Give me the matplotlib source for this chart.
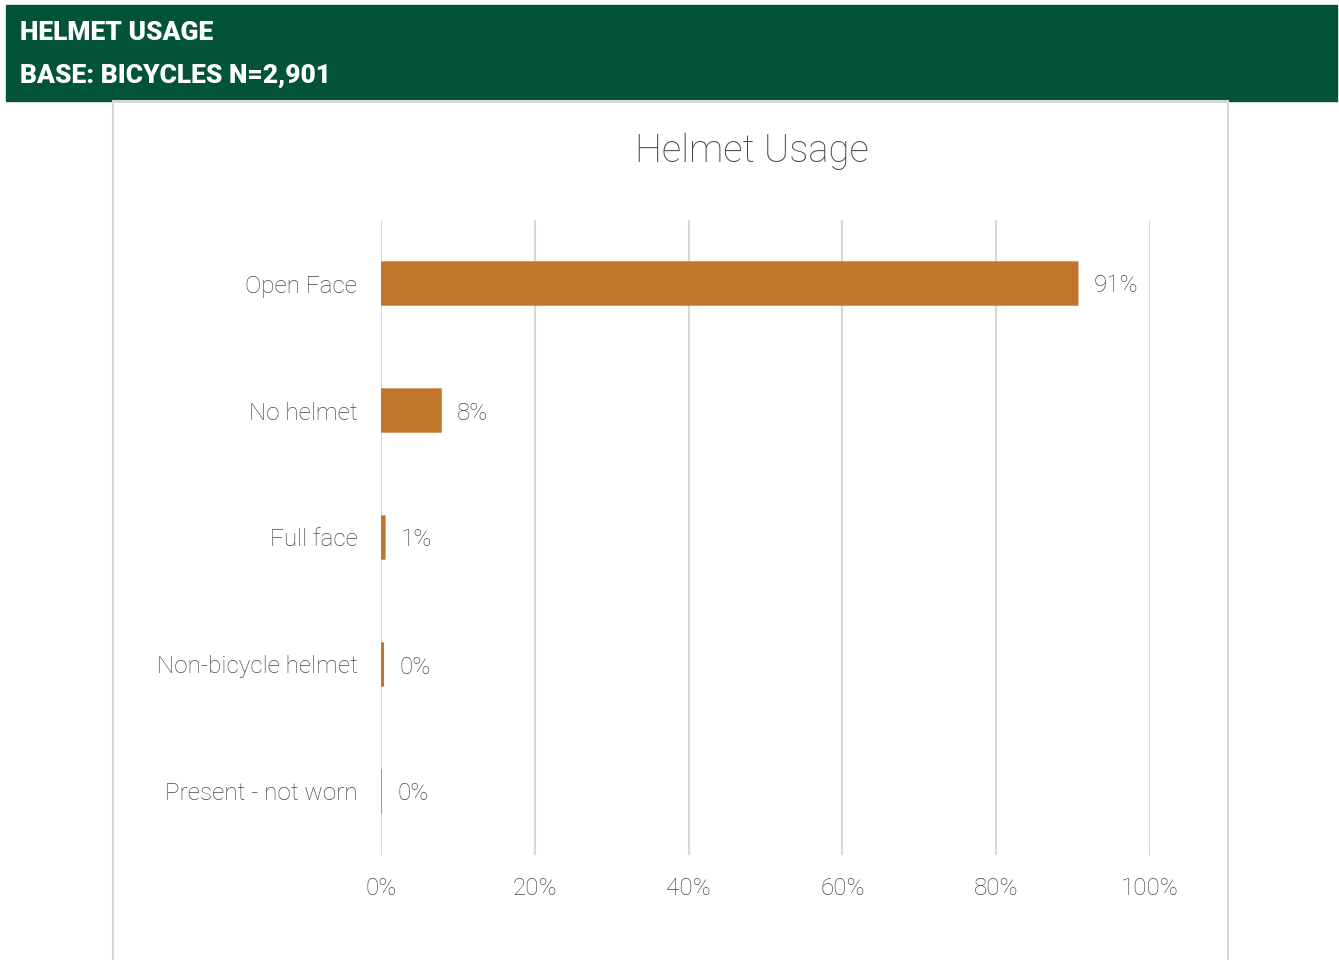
import matplotlib.pyplot as plt
from matplotlib.patches import Rectangle

# helmet usage shares (percent), bicycles base
categories = ["Open Face", "No helmet", "Full face", "Non-bicycle helmet", "Present - not worn"]
shares = [90.7, 7.9, 0.6, 0.4, 0.1]
xticks = [0, 20, 40, 60, 80, 100]

plt.rcParams['font.family'] = ['Roboto', 'DejaVu Sans']
grey = "#474747"
bar_col = "#C0772C"

fig = plt.figure(figsize=(13.39, 9.6), dpi=100)

# green header band
fig.patches.append(Rectangle((6/1339, 1 - 101/960), 1331/1339, 96/960,
                             transform=fig.transFigure, color="#02533A", zorder=0))
fig.text(20/1339, 1 - 33/960, "HELMET USAGE", color="white", fontsize=19,
         fontweight="black", va="center", ha="left")
fig.text(20/1339, 1 - 76/960, "BASE: BICYCLES N=2,901", color="white", fontsize=19,
         fontweight="black", va="center", ha="left")

# chart panel border
fig.patches.append(Rectangle((113/1339, -0.01), 1115/1339, 1 - 101/960 + 0.01,
                             transform=fig.transFigure, fill=False,
                             edgecolor="#d9d9d9", lw=1.5, zorder=0))

fig.text(752/1339, 1 - 151/960, "Helmet Usage", color=grey, fontsize=27.5,
         fontweight="light", ha="center", va="center")

ax = fig.add_axes([381/1339, 1 - 855/960, 769/1339, 635/960])
y = range(len(categories))
ax.barh(y, shares, height=0.35, color=bar_col, edgecolor="none", zorder=3,
        snap=False, antialiased=True)
for i, v in enumerate(shares):
    ax.text(v + 2, i, f"{round(v)}%", va="center_baseline", ha="left", color=grey,
            fontsize=17.5, fontweight="light")

ax.set_xlim(0, 100)
ax.set_ylim(len(categories) - 0.5, -0.5)
ax.set_xticks(xticks)
ax.set_xticklabels([f"{t}%" for t in xticks])
ax.set_yticks(list(y))
ax.set_yticklabels(categories)
ax.grid(axis="x", color="#d9d9d9", lw=1.5, zorder=0)
for s in ax.spines.values():
    s.set_visible(False)
ax.tick_params(length=0, width=0, colors=grey, labelsize=17.5)
ax.tick_params(axis="y", pad=17)
ax.tick_params(axis="x", pad=16)
for lab in ax.get_xticklabels() + ax.get_yticklabels():
    lab.set_fontweight("light")

fig.savefig("out.png", dpi=100)
